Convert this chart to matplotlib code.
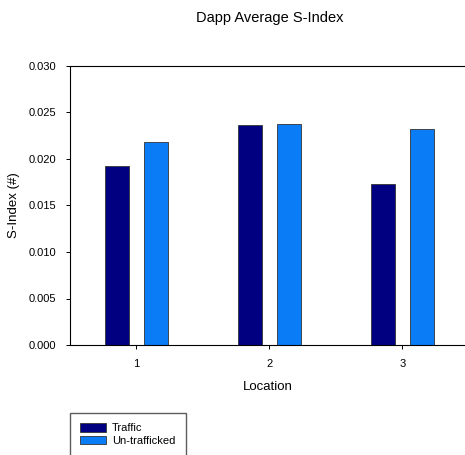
import matplotlib.pyplot as plt
import numpy as np

plt.rcParams['font.family'] = ['Liberation Sans', 'DejaVu Sans']

locations = [1, 2, 3]
traffic = [0.0192, 0.0237, 0.0173]
untrafficked = [0.0218, 0.0238, 0.0232]

fig = plt.figure(figsize=(4.65, 4.55), dpi=100)
ax = fig.add_axes([70/465, 1-345/455, 1-70/465, (345-66)/455])

x = np.array(locations)
w = 0.18
ax.bar(x - 0.15, traffic, w, color='#000080', edgecolor='#333333', linewidth=0.6, label='Traffic')
ax.bar(x + 0.15, untrafficked, w, color='#0A7CF5', edgecolor='#333333', linewidth=0.6, label='Un-trafficked')

ax.set_xlim(0.5, 3.47)
ax.set_ylim(0, 0.030)
ax.set_xticks(locations)
ax.set_yticks(np.arange(0, 0.0301, 0.005))
ax.set_yticklabels(['%.3f' % v for v in np.arange(0, 0.0301, 0.005)])
ax.tick_params(labelsize=8, length=3, width=0.7, pad=7)
ax.spines['right'].set_visible(False)
for s in ['left', 'bottom', 'top']:
    ax.spines[s].set_linewidth(0.8)

ax.set_xlabel('Location', fontsize=9.5, labelpad=9)
ax.set_ylabel('S-Index (#)', fontsize=9.5, labelpad=6)
fig.text(270/465, 1-18/455, 'Dapp Average S-Index', fontsize=10.5, ha='center', va='center')

fig.legend(loc='upper left', bbox_to_anchor=(70/465, 1-413/455), fontsize=8,
           frameon=True, fancybox=False, edgecolor='#333333', handlelength=2.3,
           handleheight=0.8, borderpad=0.9, borderaxespad=0, labelspacing=0.25,
           handletextpad=0.6)

fig.savefig('out.png', dpi=100)
